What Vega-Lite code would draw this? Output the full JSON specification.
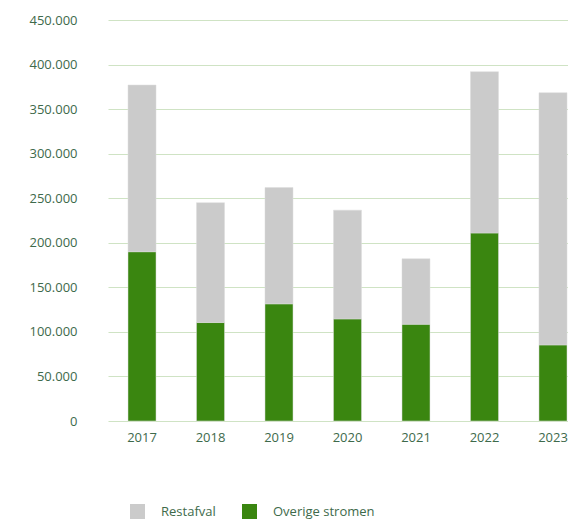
{
  "$schema": "https://vega.github.io/schema/vega-lite/v6.json",
  "autosize": "none",
  "padding": {"left": 108, "top": 20, "right": 0, "bottom": 102},
  "width": 479,
  "height": 401,
  "background": "white",
  "data": {
    "values": [
      {"jaar": "2017", "categorie": "Overige stromen", "ton": 190000},
      {"jaar": "2017", "categorie": "Restafval", "ton": 187000},
      {"jaar": "2018", "categorie": "Overige stromen", "ton": 110500},
      {"jaar": "2018", "categorie": "Restafval", "ton": 134500},
      {"jaar": "2019", "categorie": "Overige stromen", "ton": 131500},
      {"jaar": "2019", "categorie": "Restafval", "ton": 130500},
      {"jaar": "2020", "categorie": "Overige stromen", "ton": 114600},
      {"jaar": "2020", "categorie": "Restafval", "ton": 122000},
      {"jaar": "2021", "categorie": "Overige stromen", "ton": 108600},
      {"jaar": "2021", "categorie": "Restafval", "ton": 73400},
      {"jaar": "2022", "categorie": "Overige stromen", "ton": 211000},
      {"jaar": "2022", "categorie": "Restafval", "ton": 181000},
      {"jaar": "2023", "categorie": "Overige stromen", "ton": 85400},
      {"jaar": "2023", "categorie": "Restafval", "ton": 283000}
    ]
  },
  "mark": {"type": "bar", "stroke": "#dcdcdc", "strokeWidth": 0.5},
  "encoding": {
    "x": {
      "field": "jaar",
      "type": "ordinal",
      "title": null,
      "scale": {"paddingInner": 0.591, "paddingOuter": 0.292},
      "axis": {"labelAngle": 0, "ticks": false, "domain": false, "labelPadding": 10, "grid": false}
    },
    "y": {
      "field": "ton",
      "type": "quantitative",
      "stack": "zero",
      "title": null,
      "scale": {"domain": [0, 450000], "nice": false},
      "axis": {"values": [0, 50000, 100000, 150000, 200000, 250000, 300000, 350000, 400000, 450000], "format": ",d", "ticks": false, "domain": false, "labelPadding": 31, "gridColor": "#cfe3c4", "gridWidth": 1.2}
    },
    "color": {
      "field": "categorie",
      "type": "nominal",
      "scale": {"domain": ["Restafval", "Overige stromen"], "range": ["#cbcbcb", "#3a8610"]},
      "legend": {
        "title": null,
        "orient": "none",
        "direction": "horizontal",
        "legendX": 22,
        "legendY": 484,
        "symbolType": "square",
        "symbolSize": 225,
        "symbolStrokeWidth": 0,
        "labelOffset": 16,
        "columnPadding": 26
      }
    },
    "order": {"field": "categorie", "sort": "ascending"}
  },
  "config": {
    "locale": {"number": {"decimal": ",", "thousands": ".", "grouping": [3], "currency": ["€", ""]}},
    "view": {"stroke": null},
    "axis": {"labelFont": "Open Sans", "labelFontSize": 13, "labelColor": "#3e6a4b"},
    "legend": {"labelFont": "Open Sans", "labelFontSize": 13, "labelColor": "#3e6a4b"}
  }
}
